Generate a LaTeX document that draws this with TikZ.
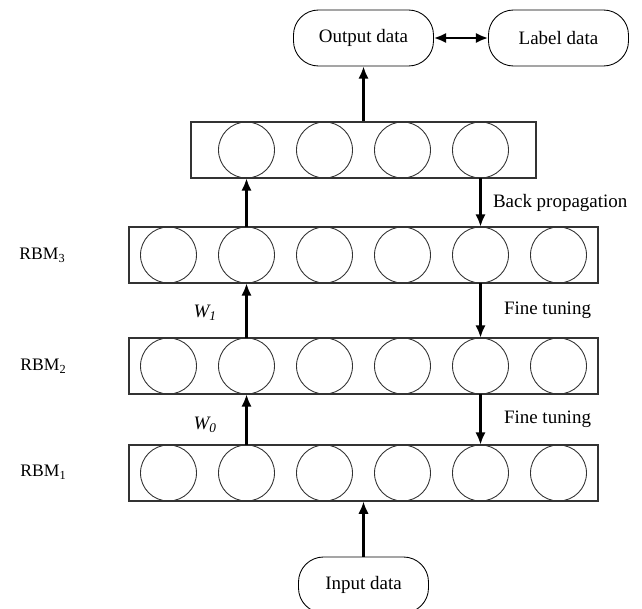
\documentclass[tikz,border=0pt]{standalone}
\usepackage{fontspec}
\setmainfont{Liberation Serif}
\usetikzlibrary{arrows.meta}
\tikzstyle{terminal} = [rectangle, rounded corners=0.5cm, 
minimum width=2.8cm, 
minimum height=1.12cm, 
text centered, 
draw=black, 
line width=0.5pt,
font=\fontsize{10.8}{13}\selectfont]
\tikzstyle{toplayer} = [rectangle, 
minimum width=6.9cm, 
minimum height=1.12cm, 
draw=black!80, 
line width=0.6pt]
\tikzstyle{rbmlayer} = [rectangle, 
minimum width=9.38cm, 
minimum height=1.12cm, 
draw=black!80, 
line width=0.6pt]
\tikzstyle{unit} = [circle, 
minimum size=1.12cm, 
inner sep=0pt, 
draw=black!80, 
line width=0.5pt]
\tikzstyle{rbmtext} = [font=\fontsize{10}{12}\selectfont]
\tikzstyle{steptext} = [font=\fontsize{10.8}{13}\selectfont]
\tikzstyle{arrow} = [line width=1.3pt,->,>={Latex[length=7pt,width=6pt]}]

\begin{document}
\begin{tikzpicture}[node distance=2.2cm]
\useasboundingbox (0,0) rectangle (12.84,-12.18);

\node (out) [terminal] at (7.27,-0.76) {Output data};
\node (lab) [terminal, right of=out, xshift=1.7cm] {Label data};
\node (top) [toplayer, below of=out, yshift=-0.04cm] {};
\node (rbm3) [rbmlayer, below of=top, yshift=0.1cm] {};
\node (rbm2) [rbmlayer, below of=rbm3, yshift=-0.02cm] {};
\node (rbm1) [rbmlayer, below of=rbm2, yshift=0.06cm] {};
\node (in) [terminal, minimum width=2.6cm, below of=rbm1, yshift=-0.04cm] {Input data};

% hidden units
\foreach \i in {1,...,4}
  \node (t\i) [unit] at ([xshift={(\i-2.5)*1.56cm}]top.center) {};
\foreach \r in {1,2,3}
  \foreach \i in {1,...,6}
    \node (r\r c\i) [unit] at ([xshift={(\i-3.5)*1.56cm}]rbm\r.center) {};

\node (n3) [rbmtext, left of=rbm3, xshift=-4.22cm] {RBM\textsubscript{3}};
\node (n2) [rbmtext, left of=rbm2, xshift=-4.2cm] {RBM\textsubscript{2}};
\node (n1) [rbmtext, left of=rbm1, xshift=-4.2cm, yshift=0.02cm] {RBM\textsubscript{1}};

\draw [arrow] (in) -- (rbm1);
\draw [arrow] (r1c2) -- node[steptext, anchor=east, xshift=-0.45cm, yshift=-0.1cm] {\textit{W\textsubscript{0}}} (r2c2);
\draw [arrow] (r2c2) -- node[steptext, anchor=east, xshift=-0.45cm, yshift=-0.05cm] {\textit{W\textsubscript{1}}} (r3c2);
\draw [arrow] (r3c2) -- (t1);
\draw [arrow] (top) -- (out);
\draw [arrow, <->] (out) -- (lab);
\draw [arrow] (t4) -- node[steptext, anchor=west, xshift=0.11cm] {Back propagation} (r3c5);
\draw [arrow] (r3c5) -- node[steptext, anchor=west, xshift=0.33cm] {Fine tuning} (r2c5);
\draw [arrow] (r2c5) -- node[steptext, anchor=west, xshift=0.33cm] {Fine tuning} (r1c5);
\end{tikzpicture}
\end{document}
